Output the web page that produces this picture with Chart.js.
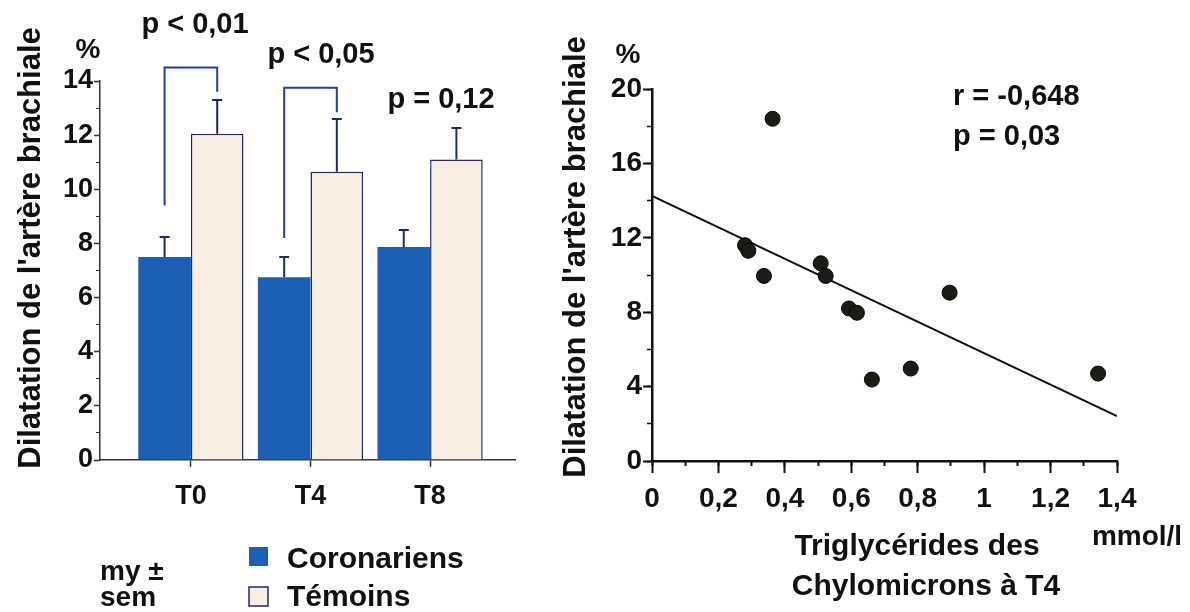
<!DOCTYPE html>
<html>
<head>
<meta charset="utf-8">
<script src="https://cdn.jsdelivr.net/npm/chart.js@4.4.0/dist/chart.umd.min.js"></script>
<style>
    body { margin: 0; background: #fff; width: 1190px; height: 612px; overflow: hidden; position: relative; }
    #bar-wrap { position: absolute; left: 0; top: 0; width: 560px; height: 612px; }
    #scatter-wrap { position: absolute; left: 560px; top: 0; width: 630px; height: 612px; }
</style>
</head>
<body>
<div id="bar-wrap"><canvas id="bar-chart" width="560" height="612"></canvas></div>
<div id="scatter-wrap"><canvas id="scatter-chart" width="630" height="612"></canvas></div>
<script>
// left chart: dilatation by period, mean + sem
var periods = ['T0', 'T4', 'T8'];
var coronariens = [7.5, 6.75, 7.87];
var coronariensSem = [0.74, 0.75, 0.63];
var temoins = [12.05, 10.65, 11.1];
var temoinsSem = [1.25, 1.95, 1.16];
// significance brackets (left foot, top, right foot), null = none
var bracketLeft = [9.4, 8.2, null];
var bracketTop = [14.5, 13.75, null];
var bracketRight = [13.6, 12.85, null];
var pValues = ['p < 0,01', 'p < 0,05', 'p = 0,12'];

// right chart: correlation with chylomicron triglycerides at T4
var triglycerides = [0.363, 0.28, 0.29, 0.337, 0.508, 0.523, 0.593, 0.617, 0.662, 0.779, 0.896, 1.343];
var dilatation = [18.4, 11.6, 11.3, 9.95, 10.63, 9.95, 8.2, 7.97, 4.38, 4.97, 9.05, 4.7];
var fitX = [0, 1.4];
var fitY = [14.25, 2.42];

var FONT = "'Liberation Sans', Arial, Helvetica, sans-serif";
var INK = '#111';
var BLUE = '#1a60b5';
var CREAM = '#f7ede1';
var NAVY = '#1c2a6b';
var xMinBar = -0.76;

function bold(size) {
    return { family: FONT, size: size, weight: 'bold' };
}

function drawText(ctx, n) {
    ctx.save();
    ctx.font = 'bold ' + (n.size || 29) + 'px ' + FONT;
    ctx.fillStyle = INK;
    ctx.textAlign = n.align || 'center';
    ctx.textBaseline = n.baseline || 'middle';
    if (n.rotate) {
        ctx.translate(n.x, n.y);
        ctx.rotate(-Math.PI / 2);
        ctx.fillText(n.text, 0, 0);
    } else {
        ctx.fillText(n.text, n.x, n.y);
    }
    ctx.restore();
}

var barNotes = [
    { text: "Dilatation de l'artère brachiale", x: 40, y: 248, size: 31, rotate: true, baseline: 'alphabetic' },
    { text: '%', x: 88, y: 50, size: 28 },
    { text: pValues[0], x: 195, y: 25 },
    { text: pValues[1], x: 321, y: 55 },
    { text: pValues[2], x: 441, y: 100 },
    { text: 'my ±', x: 100, y: 580, size: 28, align: 'left', baseline: 'alphabetic' },
    { text: 'sem', x: 100, y: 606, size: 28, align: 'left', baseline: 'alphabetic' }
];

var barExtras = {
    id: 'barExtras',
    afterDatasetsDraw: function(chart) {
        var ctx = chart.ctx;
        var y = chart.scales.y;
        var sems = [coronariensSem, temoinsSem];
        var vals = [coronariens, temoins];

        // error bars (upper half only)
        ctx.save();
        ctx.strokeStyle = NAVY;
        ctx.lineWidth = 2;
        for (let d = 0; d < 2; d++) {
            var meta = chart.getDatasetMeta(d);
            for (let i = 0; i < meta.data.length; i++) {
                var bar = meta.data[i];
                var top = y.getPixelForValue(vals[d][i] + sems[d][i]);
                ctx.beginPath();
                ctx.moveTo(bar.x, bar.y);
                ctx.lineTo(bar.x, top);
                ctx.moveTo(bar.x - 5, top);
                ctx.lineTo(bar.x + 5, top);
                ctx.stroke();
            }
        }

        // brackets between the two groups
        ctx.strokeStyle = '#22409a';
        var left = chart.getDatasetMeta(0).data;
        var right = chart.getDatasetMeta(1).data;
        for (let i = 0; i < periods.length; i++) {
            if (bracketTop[i] === null) continue;
            ctx.beginPath();
            ctx.moveTo(left[i].x, y.getPixelForValue(bracketLeft[i]));
            ctx.lineTo(left[i].x, y.getPixelForValue(bracketTop[i]));
            ctx.lineTo(right[i].x, y.getPixelForValue(bracketTop[i]));
            ctx.lineTo(right[i].x, y.getPixelForValue(bracketRight[i]));
            ctx.stroke();
        }
        ctx.restore();

        // legend
        var ds = chart.data.datasets;
        var rows = [[547, 568], [587, 606]];
        for (let d = 0; d < 2; d++) {
            ctx.save();
            ctx.fillStyle = ds[d].backgroundColor;
            ctx.fillRect(249, rows[d][0], 19, 19);
            if (ds[d].borderWidth) {
                ctx.strokeStyle = ds[d].borderColor;
                ctx.lineWidth = 1.5;
                ctx.strokeRect(249, rows[d][0], 19, 19);
            }
            ctx.restore();
            drawText(ctx, { text: ds[d].label, x: 287, y: rows[d][1], size: 30, align: 'left', baseline: 'alphabetic' });
        }

        barNotes.forEach(function(n) { drawText(ctx, n); });
    }
};

new Chart(document.getElementById('bar-chart').getContext('2d'), {
    type: 'bar',
    data: {
        datasets: [{
            label: 'Coronariens',
            data: coronariens.map(function(v, i) { return { x: i, y: v }; }),
            backgroundColor: BLUE,
            borderWidth: 0,
            xAxisID: 'x',
            yAxisID: 'y'
        }, {
            label: 'Témoins',
            data: temoins.map(function(v, i) { return { x: i, y: v }; }),
            backgroundColor: CREAM,
            borderColor: NAVY,
            borderWidth: 1.5,
            xAxisID: 'x',
            yAxisID: 'y'
        }]
    },
    options: {
        responsive: false,
        animation: false,
        categoryPercentage: 0.88,
        barPercentage: 1.0,
        layout: { padding: { top: 81, right: 45, left: 0, bottom: 0 } },
        plugins: { legend: { display: false }, tooltip: { enabled: false } },
        scales: {
            x: {
                type: 'linear',
                min: xMinBar,
                max: 2.71,
                offset: false,
                ticks: {
                    stepSize: 1,
                    includeBounds: false,
                    autoSkip: false,
                    maxRotation: 0,
                    padding: 13,
                    color: INK,
                    font: bold(27),
                    callback: function(v) { return periods[v] || ''; }
                },
                grid: { offset: false, drawOnChartArea: false, tickLength: 7, color: '#333', tickWidth: 1.5 },
                border: { color: '#333', width: 1.5 },
                afterFit: function(s) { s.height = 152; }
            },
            y: {
                min: 0,
                max: 14,
                ticks: { stepSize: 2, padding: 1, color: INK, font: bold(27) },
                grid: { drawOnChartArea: false, tickLength: 6, color: '#333', tickWidth: 1.5 },
                border: { color: '#333', width: 1.5 },
                afterFit: function(s) { s.width = 100; }
            },
            yMinor: {
                axis: 'y',
                position: { x: xMinBar },
                min: 0,
                max: 14,
                ticks: { stepSize: 1, display: false },
                grid: { drawOnChartArea: false, tickLength: 4, color: '#333', tickWidth: 1 },
                border: { display: false }
            }
        }
    },
    plugins: [barExtras]
});

var scatterNotes = [
    { text: "Dilatation de l'artère brachiale", x: 25, y: 257, size: 31, rotate: true, baseline: 'alphabetic' },
    { text: '%', x: 68, y: 55, size: 28 },
    { text: 'r = -0,648', x: 393, y: 97, align: 'left' },
    { text: 'p = 0,03', x: 393, y: 137, align: 'left' },
    { text: 'mmol/l', x: 577, y: 537, size: 28 },
    { text: 'Triglycérides des', x: 357, y: 547, size: 30 },
    { text: 'Chylomicrons à T4', x: 366, y: 587, size: 30 }
];

var scatterExtras = {
    id: 'scatterExtras',
    afterDraw: function(chart) {
        scatterNotes.forEach(function(n) { drawText(chart.ctx, n); });
    }
};

new Chart(document.getElementById('scatter-chart').getContext('2d'), {
    type: 'scatter',
    data: {
        datasets: [{
            label: 'Patients',
            data: triglycerides.map(function(v, i) { return { x: v, y: dilatation[i] }; }),
            backgroundColor: '#1c1c14',
            borderColor: '#050505',
            borderWidth: 1,
            pointRadius: 7.5,
            xAxisID: 'x',
            yAxisID: 'y'
        }, {
            type: 'line',
            label: 'Régression',
            data: fitX.map(function(v, i) { return { x: v, y: fitY[i] }; }),
            borderColor: INK,
            borderWidth: 2,
            pointRadius: 0,
            fill: false,
            xAxisID: 'x',
            yAxisID: 'y'
        }]
    },
    options: {
        responsive: false,
        animation: false,
        layout: { padding: { top: 89, right: 73, left: 0, bottom: 0 } },
        plugins: { legend: { display: false }, tooltip: { enabled: false } },
        scales: {
            x: {
                type: 'linear',
                min: 0,
                max: 1.4,
                ticks: {
                    stepSize: 0.2,
                    autoSkip: false,
                    maxRotation: 0,
                    padding: 9,
                    color: INK,
                    font: bold(28),
                    callback: function(v) { return String(Math.round(v * 10) / 10).replace('.', ','); }
                },
                grid: { drawOnChartArea: false, tickLength: 12, color: INK, tickWidth: 2 },
                border: { color: INK, width: 2.5 },
                afterFit: function(s) { s.height = 151; }
            },
            xMinor: {
                axis: 'x',
                type: 'linear',
                position: { y: 0 },
                min: 0,
                max: 1.4,
                ticks: { stepSize: 0.1, display: false },
                grid: { drawOnChartArea: false, tickLength: 5, color: INK, tickWidth: 2 },
                border: { display: false }
            },
            y: {
                min: 0,
                max: 20,
                ticks: { stepSize: 4, padding: 1, color: INK, font: bold(28) },
                grid: { drawOnChartArea: false, tickLength: 9, color: INK, tickWidth: 2 },
                border: { color: INK, width: 2.5 },
                afterFit: function(s) { s.width = 92; }
            },
            yMinor: {
                axis: 'y',
                position: { x: 0 },
                min: 0,
                max: 20,
                ticks: { stepSize: 2, display: false },
                grid: { drawOnChartArea: false, tickLength: 5, color: INK, tickWidth: 1.5 },
                border: { display: false }
            }
        }
    },
    plugins: [scatterExtras]
});
</script>
</body>
</html>
